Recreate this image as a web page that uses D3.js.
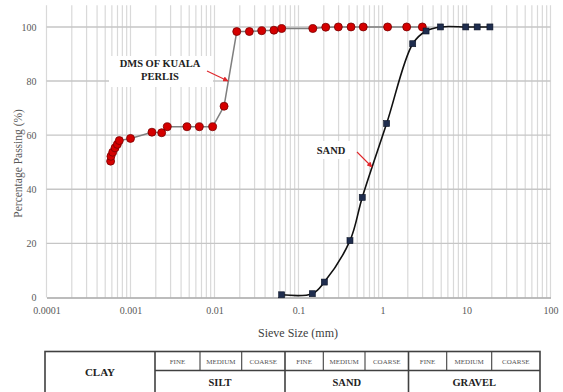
<!DOCTYPE html>
<html>
<head>
<meta charset="utf-8">
<script src="https://cdn.jsdelivr.net/npm/d3@7"></script>
<style>
  html, body { margin: 0; padding: 0; background: #fff; }
  svg { display: block; font-family: "Liberation Serif", "DejaVu Serif", serif; }
</style>
</head>
<body>
<div id="chart"></div>
<script>
// data
const dmsSize = [0.00058, 0.000585, 0.000614, 0.000654, 0.000697, 0.000736, 0.001, 0.0018, 0.00235, 0.00274,
  0.0047, 0.0066, 0.0095, 0.013, 0.0184, 0.026, 0.0365, 0.051, 0.063, 0.148, 0.211, 0.298, 0.422, 0.59, 1.15, 1.94, 2.98];
const dmsPassing = [50.4, 52.2, 53.7, 55.3, 56.6, 58, 58.8, 61.1, 60.9, 63.1,
  63.1, 63.1, 63.1, 70.7, 98.3, 98.3, 98.6, 98.8, 99.4, 99.4, 99.9, 100, 100, 100, 100, 100, 100];

const sandSize = [0.063, 0.146, 0.203, 0.41, 0.574, 1.12, 2.29, 3.3, 4.9, 9.8, 13.4, 19];
const sandPassing = [1, 1.4, 5.7, 21, 37, 64.3, 93.8, 98.5, 100, 100, 100, 100];

const xTicks = [0.0001, 0.001, 0.01, 0.1, 1, 10, 100];
const xTickLabels = ['0.0001', '0.001', '0.01', '0.1', '1', '10', '100'];
const yTicks = [0, 20, 40, 60, 80, 100];

// soil classification strip under the chart
const groups = ['SILT', 'SAND', 'GRAVEL'];
const subGroups = ['FINE', 'MEDIUM', 'COARSE'];

const width = 563;
const height = 392;
const plot = { left: 46.5, right: 550.5, top: 5.3, bottom: 297.5 };

const svg = d3.select('#chart')
  .append('svg')
  .attr('width', width)
  .attr('height', height);

const x = d3.scaleLog()
  .domain([0.0001, 100])
  .range([plot.left, plot.right]);

const y = d3.scaleLinear()
  .domain([0, 108])
  .range([plot.bottom, plot.top]);

// vertical grid, every 1..9 of each decade
const minor = [];
for (let e = -4; e <= 1; e++) {
  for (let k = 1; k <= 9; k++) minor.push(k * Math.pow(10, e));
}
minor.push(100);

svg.append('g')
  .selectAll('line')
  .data(minor)
  .join('line')
  .attr('x1', d => x(d))
  .attr('x2', d => x(d))
  .attr('y1', plot.top)
  .attr('y2', plot.bottom)
  .attr('stroke', '#d9d9d9')
  .attr('stroke-width', 1.2);

// horizontal grid
svg.append('g')
  .selectAll('line')
  .data(yTicks.filter(d => d > 0))
  .join('line')
  .attr('x1', plot.left)
  .attr('x2', plot.right)
  .attr('y1', d => y(d))
  .attr('y2', d => y(d))
  .attr('stroke', '#c6c6c6')
  .attr('stroke-width', 1.4);

// x axis
const xAxis = svg.append('g')
  .attr('transform', `translate(0,${plot.bottom})`)
  .call(d3.axisBottom(x).tickValues(xTicks).tickSize(0).tickPadding(9)
    .tickFormat((d, i) => xTickLabels[i]));
xAxis.select('.domain').attr('stroke', '#a6a6a6').attr('stroke-width', 1.4);
xAxis.selectAll('text')
  .attr('font-family', '"Liberation Serif", serif')
  .attr('font-size', 10)
  .attr('fill', '#595959');

// y axis
const yAxis = svg.append('g')
  .attr('transform', `translate(${plot.left},0)`)
  .call(d3.axisLeft(y).tickValues(yTicks).tickSize(0).tickPadding(10));
yAxis.select('.domain').remove();
yAxis.selectAll('text')
  .attr('font-family', '"Liberation Serif", serif')
  .attr('font-size', 10)
  .attr('fill', '#595959');

// axis titles
svg.append('text')
  .attr('x', 298)
  .attr('y', 337)
  .attr('text-anchor', 'middle')
  .attr('font-size', 12)
  .attr('fill', '#404040')
  .text('Sieve Size (mm)');

svg.append('text')
  .attr('transform', `translate(22,${(plot.top + plot.bottom) / 2 + 12}) rotate(-90)`)
  .attr('text-anchor', 'middle')
  .attr('font-size', 11.5)
  .attr('fill', '#595959')
  .text('Percentage Passing (%)');

// label boxes
svg.append('rect').attr('x', 109).attr('y', 56).attr('width', 104).attr('height', 31).attr('fill', '#fff');
svg.append('rect').attr('x', 309).attr('y', 141).attr('width', 42).attr('height', 18).attr('fill', '#fff');

// series lines
const dmsPts = dmsSize.map((d, i) => [d, dmsPassing[i]]);
const sandPts = sandSize.map((d, i) => [d, sandPassing[i]]);

svg.append('path')
  .datum(dmsPts)
  .attr('fill', 'none')
  .attr('stroke', '#7f7f7f')
  .attr('stroke-width', 1.5)
  .attr('d', d3.line().x(d => x(d[0])).y(d => y(d[1])));

svg.append('path')
  .datum(sandPts)
  .attr('fill', 'none')
  .attr('stroke', '#111')
  .attr('stroke-width', 1.6)
  .attr('d', d3.line().curve(d3.curveCatmullRom.alpha(0.5)).x(d => x(d[0])).y(d => y(d[1])));

// markers
svg.append('g')
  .selectAll('circle')
  .data(dmsPts)
  .join('circle')
  .attr('cx', d => x(d[0]))
  .attr('cy', d => y(d[1]))
  .attr('r', 4)
  .attr('fill', '#d40000')
  .attr('stroke', '#7a0000')
  .attr('stroke-width', 0.8);

svg.append('g')
  .selectAll('rect')
  .data(sandPts)
  .join('rect')
  .attr('x', d => x(d[0]) - 3)
  .attr('y', d => y(d[1]) - 3)
  .attr('width', 6)
  .attr('height', 6)
  .attr('fill', '#1f2d4e')
  .attr('stroke', '#0d1426')
  .attr('stroke-width', 0.6);

// annotations
svg.append('defs').append('marker')
  .attr('id', 'arrow')
  .attr('viewBox', '0 0 10 10')
  .attr('refX', 9)
  .attr('refY', 5)
  .attr('markerWidth', 5)
  .attr('markerHeight', 5)
  .attr('orient', 'auto')
  .append('path')
  .attr('d', 'M0,0L10,5L0,10z')
  .attr('fill', '#e0262b');

svg.append('line')
  .attr('x1', 207).attr('y1', 71).attr('x2', 228).attr('y2', 81)
  .attr('stroke', '#e0262b').attr('stroke-width', 1.1)
  .attr('marker-end', 'url(#arrow)');

svg.append('line')
  .attr('x1', 357).attr('y1', 152).attr('x2', 372).attr('y2', 167)
  .attr('stroke', '#e0262b').attr('stroke-width', 1.1)
  .attr('marker-end', 'url(#arrow)');

const lbl = svg.append('g')
  .attr('font-size', 10.5)
  .attr('font-weight', 'bold')
  .attr('fill', '#222')
  .attr('text-anchor', 'middle');
lbl.append('text').attr('x', 160).attr('y', 67).text('DMS OF KUALA');
lbl.append('text').attr('x', 160).attr('y', 80).text('PERLIS');
lbl.append('text').attr('x', 331).attr('y', 154).text('SAND');

// classification table
const table = svg.append('g').attr('stroke', '#404040').attr('fill', 'none');
const tTop = 351.5;
const tMid = 370.5;
const tBot = 400;
const groupEdges = [155, 285, 408.5, 540];
const subEdges = [[155, 200, 241.7, 285], [285, 323.3, 365, 408.5], [408.5, 446.7, 491.7, 540]];

table.append('rect')
  .attr('x', 45).attr('y', tTop).attr('width', 540 - 45).attr('height', tBot - tTop)
  .attr('stroke-width', 1.6);
table.append('line')
  .attr('x1', 155).attr('x2', 540).attr('y1', tMid).attr('y2', tMid)
  .attr('stroke-width', 1.3);
table.selectAll('.major')
  .data(groupEdges.slice(0, 3))
  .join('line')
  .attr('class', 'major')
  .attr('x1', d => d).attr('x2', d => d)
  .attr('y1', tTop).attr('y2', tBot)
  .attr('stroke-width', 1.6);
table.selectAll('.minor')
  .data(subEdges.flatMap(e => [e[1], e[2]]))
  .join('line')
  .attr('class', 'minor')
  .attr('x1', d => d).attr('x2', d => d)
  .attr('y1', tTop).attr('y2', tMid)
  .attr('stroke-width', 1.1);

const tText = svg.append('g').attr('text-anchor', 'middle');
tText.append('text')
  .attr('x', 100).attr('y', 375.5)
  .attr('font-size', 11).attr('font-weight', 'bold').attr('fill', '#222')
  .text('CLAY');
groups.forEach((g, gi) => {
  const e = subEdges[gi];
  tText.append('text')
    .attr('x', (e[0] + e[3]) / 2).attr('y', 386)
    .attr('font-size', 10.5).attr('font-weight', 'bold').attr('fill', '#222')
    .text(g);
  subGroups.forEach((s, si) => {
    tText.append('text')
      .attr('x', (e[si] + e[si + 1]) / 2).attr('y', 364)
      .attr('font-size', 7).attr('fill', '#555')
      .text(s);
  });
});
</script>
</body>
</html>
